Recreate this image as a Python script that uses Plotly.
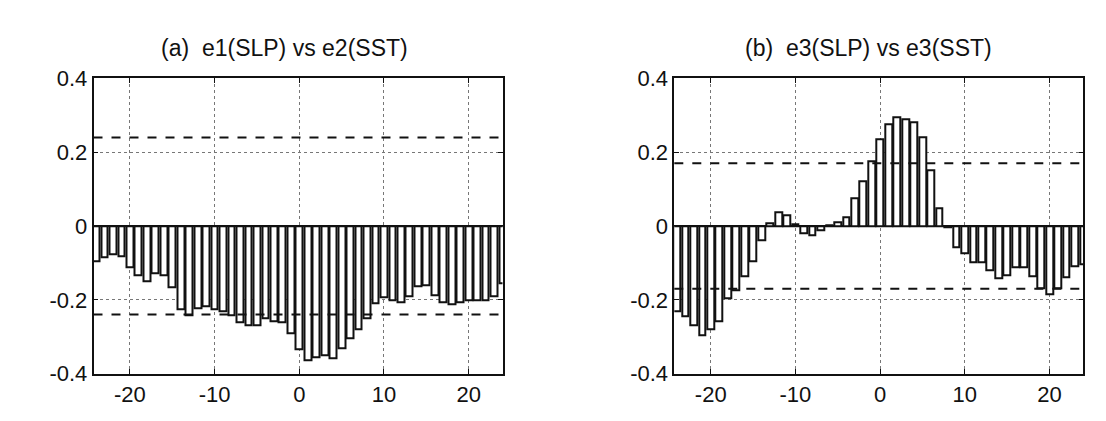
import plotly.graph_objects as go

lags = list(range(-24, 25))

corr_a = [-0.097, -0.084, -0.078, -0.082, -0.112, -0.134, -0.151, -0.128, -0.133, -0.165,
          -0.225, -0.243, -0.222, -0.217, -0.226, -0.230, -0.243, -0.261, -0.268, -0.268,
          -0.251, -0.258, -0.262, -0.291, -0.333, -0.363, -0.355, -0.350, -0.358, -0.330,
          -0.305, -0.280, -0.250, -0.210, -0.193, -0.200, -0.208, -0.190, -0.163, -0.160,
          -0.188, -0.207, -0.213, -0.207, -0.200, -0.202, -0.200, -0.190, -0.155]

corr_b = [-0.230, -0.245, -0.270, -0.295, -0.281, -0.257, -0.197, -0.173, -0.135, -0.097,
          -0.038, 0.008, 0.038, 0.030, 0.004, -0.019, -0.025, -0.011, 0.003, 0.010,
          0.024, 0.074, 0.120, 0.176, 0.235, 0.275, 0.295, 0.290, 0.280, 0.240,
          0.150, 0.047, -0.003, -0.058, -0.075, -0.099, -0.099, -0.119, -0.143, -0.134,
          -0.113, -0.113, -0.136, -0.170, -0.185, -0.168, -0.138, -0.109, -0.105]

sig_a = 0.24
sig_b = 0.17

titles = ["(a)\u00a0 e1(SLP) vs e2(SST)", "(b)\u00a0 e3(SLP) vs e3(SST)"]
x_ticks = [-20, -10, 0, 10, 20]
x_ticklabels = ["-20", "-10", "0", "10", "20"]
y_ticks = [-0.4, -0.2, 0, 0.2, 0.4]
y_ticklabels = ["-0.4", "-0.2", "0", "0.2", "0.4"]

W, H = 1106, 421
font = "Liberation Sans, Arial, Helvetica, sans-serif"
ink = "#111111"

fig = go.Figure()

for i, vals in enumerate([corr_a, corr_b]):
    fig.add_trace(go.Bar(
        x=lags, y=vals, width=0.8,
        marker=dict(color="white", line=dict(color=ink, width=2)),
        xaxis="x" if i == 0 else "x2", yaxis="y" if i == 0 else "y2",
        showlegend=False,
    ))

ydom = [(H - 384.5) / H, (H - 70.5) / H]
xdoms = [[93.5 / W, 502.5 / W], [674.3 / W, 1083.3 / W]]

axcommon = dict(
    showline=True, linecolor=ink, linewidth=1.6, mirror="allticks",
    ticks="inside", ticklen=5, tickcolor=ink, tickwidth=1.3,
    showgrid=True, gridcolor="#777777", griddash="dot", gridwidth=1,
    tickfont=dict(family=font, size=22, color=ink),
    zeroline=False,
)

layout = dict(
    width=W, height=H, margin=dict(l=0, r=0, t=0, b=0),
    paper_bgcolor="white", plot_bgcolor="white", bargap=0,
    shapes=[], annotations=[],
)

for i, sig in enumerate([sig_a, sig_b]):
    xa = "xaxis" if i == 0 else "xaxis2"
    ya = "yaxis" if i == 0 else "yaxis2"
    xr = "x" if i == 0 else "x2"
    yr = "y" if i == 0 else "y2"
    layout[xa] = dict(axcommon, domain=xdoms[i], range=[-24.3, 24], anchor=yr,
                      tickvals=x_ticks, ticktext=x_ticklabels)
    layout[ya] = dict(axcommon, domain=ydom, range=[-0.4, 0.4], anchor=xr,
                      tickvals=y_ticks, ticktext=y_ticklabels,
                      zeroline=True, zerolinecolor=ink, zerolinewidth=1.8)
    for s in (sig, -sig):
        layout["shapes"].append(dict(
            type="line", xref=f"{xr} domain", yref=yr, x0=0, x1=1, y0=s, y1=s,
            line=dict(color=ink, width=2, dash="dash"), layer="above"))
    cx = [284 / W, 868 / W][i]
    layout["annotations"].append(dict(
        text=titles[i], xref="paper", yref="paper", x=cx, y=1 - 38 / H,
        xanchor="center", yanchor="middle", showarrow=False,
        font=dict(family=font, size=23, color=ink)))

fig.update_layout(**layout)
fig.write_html("out.html")
